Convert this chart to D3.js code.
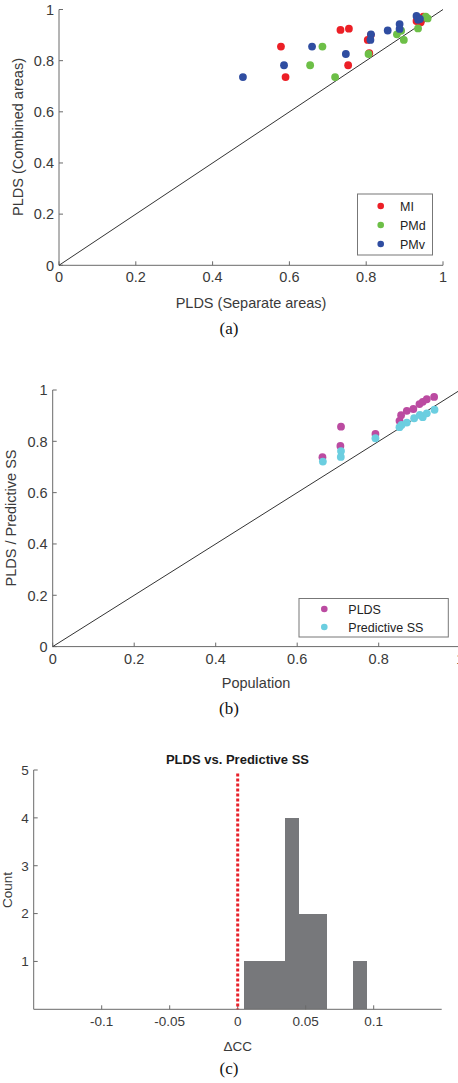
<!DOCTYPE html>
<html><head><meta charset="utf-8">
<script src="https://cdn.jsdelivr.net/npm/d3@7"></script>
<style>
html,body{margin:0;padding:0;background:#fff;}
svg{display:block;}
text{font-family:"Liberation Sans",Arial,Helvetica,sans-serif;}
</style></head>
<body>
<svg id="chart" width="458" height="1083"></svg>
<script>
// ---------- Panel (a) data ----------
const areaNames = ["MI", "PMd", "PMv"];
const areaColors = ["#ec1f26", "#6dbf47", "#2f4da1"];
const miSeparate = [0.578, 0.590, 0.733, 0.755, 0.753, 0.804, 0.808, 0.931, 0.949, 0.942, 0.812];
const miCombined = [0.855, 0.736, 0.920, 0.925, 0.782, 0.881, 0.829, 0.955, 0.972, 0.950, 0.900];
const pmdSeparate = [0.654, 0.686, 0.719, 0.806, 0.880, 0.891, 0.898, 0.935, 0.955, 0.960];
const pmdCombined = [0.782, 0.855, 0.736, 0.826, 0.903, 0.917, 0.881, 0.926, 0.972, 0.965];
const pmvSeparate = [0.479, 0.586, 0.659, 0.747, 0.8125, 0.811, 0.856, 0.887, 0.887, 0.931, 0.935, 0.940];
const pmvCombined = [0.736, 0.782, 0.855, 0.826, 0.903, 0.881, 0.918, 0.943, 0.924, 0.975, 0.960, 0.963];
const ticksA = [0, 0.2, 0.4, 0.6, 0.8, 1];

// ---------- Panel (b) data ----------
const seriesNamesB = ["PLDS", "Predictive SS"];
const seriesColorsB = ["#bb4ba1", "#6bcee0"];
const population = [0.662, 0.7075, 0.706, 0.792, 0.851, 0.855, 0.869, 0.885, 0.900, 0.908, 0.918, 0.936];
const pldsB = [0.738, 0.857, 0.782, 0.829, 0.880, 0.902, 0.919, 0.926, 0.945, 0.954, 0.964, 0.973];
const populationSS = [0.663, 0.7075, 0.707, 0.792, 0.851, 0.856, 0.869, 0.887, 0.901, 0.908, 0.918, 0.937];
const predSS = [0.721, 0.762, 0.739, 0.812, 0.855, 0.864, 0.873, 0.890, 0.903, 0.894, 0.909, 0.923];
const ticksB = [0, 0.2, 0.4, 0.6, 0.8, 1];

// ---------- Panel (c) data ----------
const binStarts = [0.005, 0.015, 0.025, 0.035, 0.045, 0.055, 0.085];
const binCounts = [1, 1, 1, 4, 2, 2, 1];
const binWidth = 0.01;
const ticksCx = [-0.1, -0.05, 0, 0.05, 0.1];
const ticksCy = [1, 2, 3, 4, 5];

const svg = d3.select("#chart");
const axisColor = "#6a6a6a";
const textColor = "#3a3a3a";
const fmt = d => (d === 0 ? "0" : d === 1 ? "1" : String(d));

function drawAxes(g, x, y, xt, yt, fs, xfmt, yfmt) {
  const [x0, x1] = x.range();
  const [y0, y1] = y.range();
  g.append("line").attr("x1", x0).attr("x2", x0).attr("y1", y0).attr("y2", y1)
    .attr("stroke", axisColor).attr("stroke-width", 1);
  g.append("line").attr("x1", x0).attr("x2", x1).attr("y1", y0).attr("y2", y0)
    .attr("stroke", axisColor).attr("stroke-width", 1);
  xt.forEach(t => {
    const px = x(t);
    g.append("line").attr("x1", px).attr("x2", px).attr("y1", y0).attr("y2", y0 - 4)
      .attr("stroke", axisColor);
    g.append("text").attr("x", px).attr("y", y0 + 17).attr("text-anchor", "middle")
      .attr("font-size", fs).attr("fill", textColor).text(xfmt(t));
  });
  yt.forEach(t => {
    const py = y(t);
    g.append("line").attr("x1", x0).attr("x2", x0 + 4).attr("y1", py).attr("y2", py)
      .attr("stroke", axisColor);
    g.append("text").attr("x", x0 - 5).attr("y", py).attr("dy", "0.36em").attr("text-anchor", "end")
      .attr("font-size", fs).attr("fill", textColor).text(yfmt(t));
  });
}

// ================= Panel (a) =================
{
  const x = d3.scaleLinear().domain([0, 1]).range([59, 443]);
  const y = d3.scaleLinear().domain([0, 1]).range([265.3, 9.5]);
  const g = svg.append("g");
  drawAxes(g, x, y, ticksA, ticksA, 14.5, fmt, fmt);
  g.append("line").attr("x1", x(0)).attr("y1", y(0)).attr("x2", x(1)).attr("y2", y(1))
    .attr("stroke", "#333").attr("stroke-width", 1);
  const sets = [[miSeparate, miCombined], [pmdSeparate, pmdCombined], [pmvSeparate, pmvCombined]];
  sets.forEach((s, i) => {
    g.selectAll(null).data(d3.range(s[0].length)).enter().append("circle")
      .attr("cx", k => x(s[0][k])).attr("cy", k => y(s[1][k])).attr("r", 3.9)
      .attr("fill", areaColors[i]);
  });
  g.append("rect").attr("x", 357.5).attr("y", 194).attr("width", 75).attr("height", 61)
    .attr("fill", "#fff").attr("stroke", "#777").attr("stroke-width", 1);
  areaNames.forEach((n, i) => {
    const ly = 206 + i * 19;
    g.append("circle").attr("cx", 380.7).attr("cy", ly).attr("r", 3.3).attr("fill", areaColors[i]);
    g.append("text").attr("x", 400).attr("y", ly).attr("dy", "0.36em").attr("font-size", 12.5)
      .attr("fill", "#222").text(n);
  });
  g.append("text").attr("x", 251).attr("y", 303).attr("dy", "0.36em").attr("text-anchor", "middle")
    .attr("font-size", 14.5).attr("fill", textColor).text("PLDS (Separate areas)");
  g.append("text").attr("transform", "translate(18,137) rotate(-90)").attr("dy", "0.36em")
    .attr("text-anchor", "middle").attr("font-size", 14.5).attr("fill", textColor)
    .text("PLDS (Combined areas)");
  g.append("text").attr("x", 229).attr("y", 328).attr("dy", "0.36em").attr("text-anchor", "middle")
    .style("font-family", "'Liberation Serif','Times New Roman',serif")
    .attr("font-size", 17).attr("fill", "#111").text("(a)");
}

// ================= Panel (b) =================
{
  const x = d3.scaleLinear().domain([0, 1]).range([52.7, 460.2]);
  const y = d3.scaleLinear().domain([0, 1]).range([646.6, 390]);
  const g = svg.append("g");
  drawAxes(g, x, y, ticksB, ticksB, 14.5, fmt, fmt);
  g.append("line").attr("x1", x(0)).attr("y1", y(0)).attr("x2", x(1)).attr("y2", y(1))
    .attr("stroke", "#333").attr("stroke-width", 1);
  g.selectAll(null).data(d3.range(population.length)).enter().append("circle")
    .attr("cx", k => x(population[k])).attr("cy", k => y(pldsB[k])).attr("r", 3.9)
    .attr("fill", seriesColorsB[0]);
  g.selectAll(null).data(d3.range(populationSS.length)).enter().append("circle")
    .attr("cx", k => x(populationSS[k])).attr("cy", k => y(predSS[k])).attr("r", 3.9)
    .attr("fill", seriesColorsB[1]);
  g.append("rect").attr("x", 299).attr("y", 598.5).attr("width", 149.3).attr("height", 38.5)
    .attr("fill", "#fff").attr("stroke", "#777").attr("stroke-width", 1);
  seriesNamesB.forEach((n, i) => {
    const ly = 609 + i * 18;
    g.append("circle").attr("cx", 324.3).attr("cy", ly).attr("r", 3.3).attr("fill", seriesColorsB[i]);
    g.append("text").attr("x", 348.3).attr("y", ly).attr("dy", "0.36em").attr("font-size", 12.5)
      .attr("fill", "#222").text(n);
  });
  g.append("text").attr("x", 256).attr("y", 683).attr("dy", "0.36em").attr("text-anchor", "middle")
    .attr("font-size", 14.5).attr("fill", textColor).text("Population");
  g.append("text").attr("transform", "translate(11,518) rotate(-90)").attr("dy", "0.36em")
    .attr("text-anchor", "middle").attr("font-size", 14.5).attr("fill", textColor)
    .text("PLDS / Predictive SS");
  g.append("text").attr("x", 229).attr("y", 708).attr("dy", "0.36em").attr("text-anchor", "middle")
    .style("font-family", "'Liberation Serif','Times New Roman',serif")
    .attr("font-size", 17).attr("fill", "#111").text("(b)");
}

// ================= Panel (c) =================
{
  const x = d3.scaleLinear().domain([-0.15, 0.15]).range([33.7, 441.7]);
  const y = d3.scaleLinear().domain([0, 5]).range([1009.3, 770]);
  const g = svg.append("g");
  g.selectAll(null).data(d3.range(binStarts.length)).enter().append("rect")
    .attr("x", k => Math.floor(x(binStarts[k])))
    .attr("width", k => Math.ceil(x(binStarts[k] + binWidth)) - Math.floor(x(binStarts[k])))
    .attr("y", k => y(binCounts[k])).attr("height", k => y(0) - y(binCounts[k]))
    .attr("shape-rendering", "crispEdges")
    .attr("fill", "#77787b");
  drawAxes(g, x, y, ticksCx, ticksCy, 13.5, d => (d === 0 ? "0" : String(d)), d => String(d));
  g.append("line").attr("x1", x(0)).attr("x2", x(0)).attr("y1", 773.5).attr("y2", y(0))
    .attr("stroke", "#e8202a").attr("stroke-width", 3).attr("stroke-dasharray", "3,2");
  g.append("text").attr("x", 237.5).attr("y", 759).attr("dy", "0.36em").attr("text-anchor", "middle")
    .attr("font-size", 13).attr("font-weight", "bold").attr("fill", "#1a1a1a").text("PLDS vs. Predictive SS");
  g.append("text").attr("x", 237.7).attr("y", 1046).attr("dy", "0.36em").attr("text-anchor", "middle")
    .attr("font-size", 13.5).attr("fill", textColor).text("\u0394CC");
  g.append("text").attr("transform", "translate(7,890) rotate(-90)").attr("dy", "0.36em")
    .attr("text-anchor", "middle").attr("font-size", 13.5).attr("fill", textColor).text("Count");
  g.append("text").attr("x", 229).attr("y", 1068).attr("dy", "0.36em").attr("text-anchor", "middle")
    .style("font-family", "'Liberation Serif','Times New Roman',serif")
    .attr("font-size", 17).attr("fill", "#111").text("(c)");
}
</script>
</body></html>
